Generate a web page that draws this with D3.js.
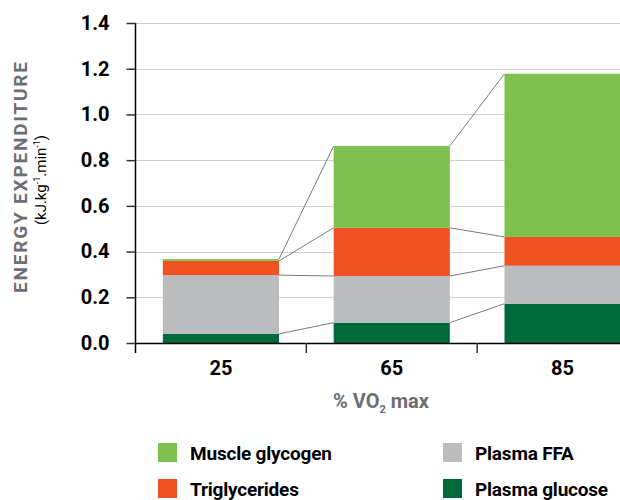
<!DOCTYPE html>
<html>
<head>
<meta charset="utf-8">
<script src="https://cdn.jsdelivr.net/npm/d3@7"></script>
<style>
  html, body { margin: 0; padding: 0; background: #fff; }
  svg { display: block; }
  text { font-family: Roboto, "Liberation Sans", sans-serif; }
</style>
</head>
<body>
<svg id="chart" width="620" height="500"></svg>
<script>
// ---- data ----
const categories = ["25", "65", "85"];
const plasmaGlucose = [0.04, 0.089, 0.172];
const plasmaFFA = [0.257, 0.204, 0.166];
const triglycerides = [0.062, 0.211, 0.126];
const muscleGlycogen = [0.008, 0.358, 0.714];
const yTicks = [0, 0.2, 0.4, 0.6, 0.8, 1.0, 1.2, 1.4];
const seriesNames = ["Plasma glucose", "Plasma FFA", "Triglycerides", "Muscle glycogen"];
const seriesColors = ["#00693a", "#bbbcbe", "#ef5323", "#7dc250"];
const legendOrder = ["Muscle glycogen", "Plasma FFA", "Triglycerides", "Plasma glucose"];

const seriesValues = [plasmaGlucose, plasmaFFA, triglycerides, muscleGlycogen];
const rows = categories.map((c, i) => {
  const r = { cat: c };
  seriesNames.forEach((s, k) => r[s] = seriesValues[k][i]);
  return r;
});

const svg = d3.select("#chart");
const x = d3.scaleBand().domain(categories).range([135.5, 648]).paddingInner(0.32).paddingOuter(0.16);
const y = d3.scaleLinear().domain([0, 1.4]).range([343, 23]);
const color = d3.scaleOrdinal().domain(seriesNames).range(seriesColors);

const stacked = d3.stack().keys(seriesNames)(rows);

// gridlines
svg.append("g").selectAll("line").data(yTicks).join("line")
  .attr("x1", 135.5).attr("x2", 620)
  .attr("y1", d => Math.round(y(d)) + 0.5).attr("y2", d => Math.round(y(d)) + 0.5)
  .attr("stroke", "#d0d0d0").attr("stroke-width", 1);

// connector lines
const conn = svg.append("g");
stacked.forEach(layer => {
  for (let i = 0; i < categories.length - 1; i++) {
    conn.append("line")
      .attr("x1", x(categories[i]) + x.bandwidth())
      .attr("y1", y(layer[i][1]))
      .attr("x2", x(categories[i + 1]))
      .attr("y2", y(layer[i + 1][1]))
      .attr("stroke", "#7a7a7a").attr("stroke-width", 1);
  }
});

// bars
svg.append("g").selectAll("g").data(stacked).join("g")
  .attr("fill", d => color(d.key))
  .selectAll("rect").data(d => d).join("rect")
  .attr("x", d => x(d.data.cat))
  .attr("width", x.bandwidth())
  .attr("y", d => y(d[1]))
  .attr("height", d => y(d[0]) - y(d[1]));

// y axis
const yAxis = svg.append("g").attr("transform", "translate(135.5,0)")
  .call(d3.axisLeft(y).tickValues(yTicks).tickFormat(d3.format(".1f")).tickSize(9).tickPadding(17));
yAxis.select(".domain").attr("d", "M0,23V353").attr("stroke", "#000").attr("stroke-width", 1.5);
yAxis.selectAll(".tick line").attr("stroke", "#333").attr("stroke-width", 1.5);
yAxis.selectAll(".tick text").attr("font-size", 20).attr("font-weight", 700).attr("fill", "#000")
  .attr("font-family", "Roboto, sans-serif");

// x axis line
svg.append("line").attr("x1", 135.5).attr("x2", 620).attr("y1", 343.5).attr("y2", 343.5)
  .attr("stroke", "#000").attr("stroke-width", 1.5);
// category boundary ticks
const step = x.step();
const boundaries = d3.range(categories.length + 1).map(i => x.range()[0] + i * step);
svg.append("g").selectAll("line").data(boundaries.slice(1)).join("line")
  .attr("x1", d => d).attr("x2", d => d).attr("y1", 343).attr("y2", 353)
  .attr("stroke", "#333").attr("stroke-width", 1.5);

// x tick labels
svg.append("g").selectAll("text").data(categories).join("text")
  .attr("x", d => x(d) + x.bandwidth() / 2)
  .attr("y", 375)
  .attr("text-anchor", "middle")
  .attr("font-size", 20).attr("font-weight", 700).attr("fill", "#000")
  .text(d => d);

// x title
const xt = svg.append("text").attr("x", 381).attr("y", 408).attr("text-anchor", "middle")
  .attr("font-size", 20).attr("font-weight", 700).attr("fill", "#6d6e71");
xt.append("tspan").text("% VO");
xt.append("tspan").attr("font-size", 11).attr("dy", 5).text("2");
xt.append("tspan").attr("dy", -5).text(" max");

// y title
svg.append("text").attr("transform", "translate(26.5,177.5) rotate(-90)")
  .attr("text-anchor", "middle").attr("font-size", 19).attr("font-weight", 700)
  .attr("font-family", "'Liberation Sans Narrow', 'DejaVu Sans Condensed', Roboto, sans-serif")
  .attr("textLength", 231).attr("lengthAdjust", "spacing").attr("fill", "#6d6e71")
  .text("ENERGY EXPENDITURE");
const st = svg.append("text").attr("transform", "translate(45.5,180) rotate(-90)")
  .attr("text-anchor", "middle").attr("font-size", 15).attr("fill", "#000");
st.append("tspan").text("(kJ.kg");
st.append("tspan").attr("font-size", 9).attr("dy", -6).text("-1");
st.append("tspan").attr("dy", 6).text(".min");
st.append("tspan").attr("font-size", 9).attr("dy", -6).text("-1");
st.append("tspan").attr("dy", 6).text(")");

// legend
const legendPos = [[158, 443], [443, 443], [158, 479], [443, 479]];
const lg = svg.append("g").selectAll("g").data(legendOrder).join("g")
  .attr("transform", (d, i) => `translate(${legendPos[i][0]},${legendPos[i][1]})`);
lg.append("rect").attr("width", 19).attr("height", 19).attr("fill", d => color(d));
lg.append("text").attr("x", 32).attr("y", 16.5).attr("font-size", 19).attr("font-weight", 700)
  .attr("fill", "#000").attr("letter-spacing", -0.2).text(d => d);
</script>
</body>
</html>
